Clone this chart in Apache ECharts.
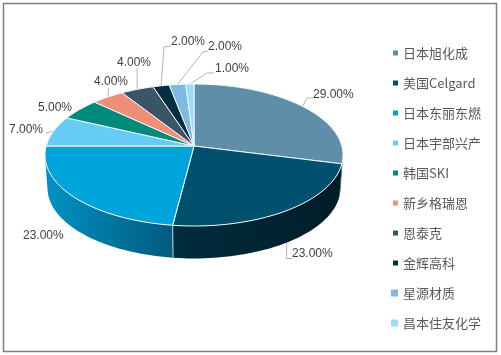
<!DOCTYPE html>
<html>
<head>
<meta charset="utf-8">
<title>隔膜市场份额</title>
<script src="https://cdn.jsdelivr.net/npm/echarts@6/dist/echarts.min.js"></script>
<style>
html, body { margin: 0; padding: 0; background: #fff; }
#chart { width: 501px; height: 355px; }
</style>
</head>
<body>
<div id="chart"></div>
<script>
// data
var names = ["日本旭化成", "美国Celgard", "日本东丽东燃", "日本宇部兴产", "韩国SKI", "新乡格瑞恩", "恩泰克", "金辉高科", "星源材质", "昌本住友化学"];
var shares = [29, 23, 23, 7, 5, 4, 4, 2, 2, 1];
var colors = ["#5f8fa8", "#00506e", "#00a4dc", "#66ccf5", "#008a7c", "#ee9078", "#3a5565", "#032f43", "#80bae2", "#9cdcfb"];
var sideColors = [
  ["#1d3a48", "#1d3a48"], ["#002d3f", "#001c27"], ["#0092c4", "#005a7e"], ["#2c8fb8", "#2c8fb8"], ["#005a50", "#005a50"],
  ["#a86452", "#a86452"], ["#263844", "#263844"], ["#021f2c", "#021f2c"], ["#5a84a0", "#5a84a0"], ["#6e9cb2", "#6e9cb2"]
];

// label placement, one per slice: text left/middle and the bend of the leader
var labelSpots = [
  { x: 313, y: 95, leader: [[307, 98], [313, 98]] },
  { x: 292, y: 254, leader: [[286.5, 258.5], [292, 258.5]] },
  { x: 23, y: 236, leader: null },
  { x: 9, y: 130, leader: [[46, 133]] },
  { x: 38, y: 108, leader: null },
  { x: 94, y: 82, leader: [[108.5, 88]] },
  { x: 117, y: 63, leader: [[137, 68]] },
  { x: 171, y: 42, leader: [[164, 47], [171, 46]] },
  { x: 208, y: 46.5, leader: [[203, 52], [208, 51]] },
  { x: 215, y: 69, leader: [[207, 73], [214, 73]] }
];

var total = shares.reduce(function (a, b) { return a + b; }, 0);

// the top face is an ellipse, but the slices meet a bit above its centre
var top3d = { cx: 194, cy: 155, rx: 149, ry: 71 };
var bottom3d = { cx: 194, cy: 188, rx: 146.5, ry: 70.5 };
var apex = { x: 194, y: 146, k: 70 };

function rimPoint(frac) {
  var a = frac * Math.PI * 2;
  var dx = top3d.rx * Math.sin(a) / top3d.rx;
  var dy = -apex.k * Math.cos(a) / top3d.ry;
  var oy = (apex.y - top3d.cy) / top3d.ry;
  var A = dx * dx + dy * dy;
  var B = 2 * oy * dy;
  var C = oy * oy - 1;
  var t = (-B + Math.sqrt(B * B - 4 * A * C)) / (2 * A);
  return { u: dx * t, v: oy + dy * t };
}

function topXY(p) {
  return [top3d.cx + p.u * top3d.rx, top3d.cy + p.v * top3d.ry];
}

function bottomXY(p) {
  return [bottom3d.cx + p.u * bottom3d.rx, bottom3d.cy + p.v * bottom3d.ry];
}

function sliceItem(index) {
  return function (params, api) {
    var start = 0;
    for (var i = 0; i < index; i++) {
      start += shares[i] / total;
    }
    var span = api.value(0) / total;
    var steps = Math.max(4, Math.ceil(span * 200));
    var face = [[apex.x, apex.y]];
    var upper = [];
    var lower = [];
    for (var s = 0; s <= steps; s++) {
      var p = rimPoint(start + span * s / steps);
      face.push(topXY(p));
      if (p.v >= 0) {
        upper.push(topXY(p));
        lower.unshift(bottomXY(p));
      }
    }
    var children = [];
    var spot = labelSpots[index];
    if (spot.leader) {
      var mid = topXY(rimPoint(start + span / 2));
      children.push({
        type: "polyline",
        z2: 0,
        shape: { points: [mid].concat(spot.leader) },
        style: { stroke: "#b4b4b4", lineWidth: 1, fill: null }
      });
    }
    if (upper.length > 1) {
      children.push({
        type: "polygon",
        z2: 1,
        shape: { points: upper.concat(lower) },
        style: {
          fill: new echarts.graphic.LinearGradient(0, 0, 1, 0, [
            { offset: 0, color: sideColors[index][0] },
            { offset: 1, color: sideColors[index][1] }
          ])
        }
      });
      if (index === 2) {
        // seam between the two front side walls
        children.push({
          type: "line",
          z2: 2,
          shape: { x1: upper[0][0], y1: upper[0][1], x2: lower[lower.length - 1][0], y2: lower[lower.length - 1][1] },
          style: { stroke: "#c6d2d8", lineWidth: 1 }
        });
      }
    }
    children.push({
      type: "polygon",
      z2: 3,
      shape: { points: face },
      style: { fill: colors[index], stroke: "#f4f8fa", lineWidth: 1, lineJoin: "round" }
    });
    children.push({
      type: "text",
      z2: 4,
      style: {
        x: spot.x,
        y: spot.y,
        text: api.value(0).toFixed(2) + "%",
        fill: "#404040",
        font: '12px "Liberation Sans", Arial, sans-serif',
        align: "left",
        verticalAlign: "middle"
      }
    });
    return { type: "group", children: children };
  };
}

var series = names.map(function (name, i) {
  return {
    name: name,
    type: "custom",
    coordinateSystem: "none",
    silent: true,
    itemStyle: { color: colors[i] },
    data: [[shares[i]]],
    renderItem: sliceItem(i)
  };
});

var chart = echarts.init(document.getElementById("chart"));
chart.setOption({
  animation: false,
  backgroundColor: "#fff",
  graphic: [{
    type: "rect",
    shape: { x: 3.5, y: 3.5, width: 493, height: 348 },
    style: { fill: null, stroke: "#7f7f7f", lineWidth: 1.5 }
  }],
  legend: [
    {
      orient: "vertical",
      left: 393,
      top: 46,
      itemWidth: 5,
      itemHeight: 5,
      itemGap: 16,
      icon: "rect",
      selectedMode: false,
      padding: 0,
      data: names.slice(0, 8),
      textStyle: { color: "#595959", fontSize: 13, lineHeight: 14, fontFamily: "Noto Sans CJK SC", padding: [0, 0, 0, 0] }
    },
    {
      orient: "vertical",
      left: 391,
      top: 286,
      itemWidth: 7,
      itemHeight: 7,
      itemGap: 16,
      icon: "rect",
      selectedMode: false,
      padding: 0,
      data: names.slice(8),
      textStyle: { color: "#595959", fontSize: 13, lineHeight: 14, fontFamily: "Noto Sans CJK SC", padding: [0, 0, 0, 0] }
    }
  ],
  series: series
});
</script>
</body>
</html>
